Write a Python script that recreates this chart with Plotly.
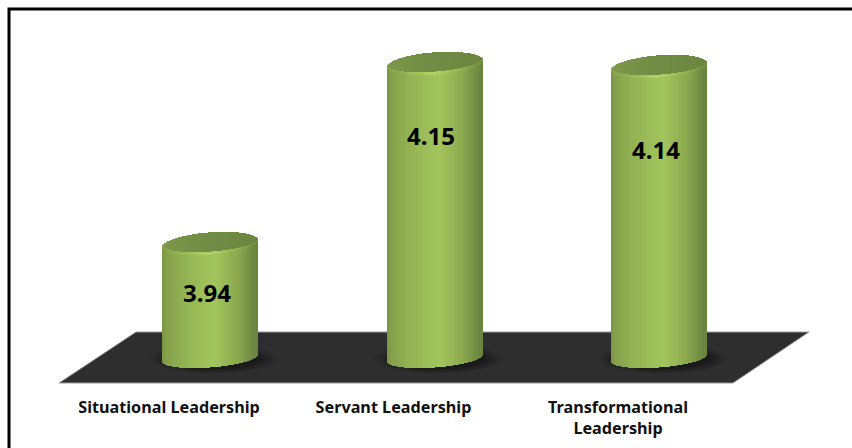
import numpy as np
import plotly.graph_objects as go

# --- data ---
categories = ["Situational Leadership", "Servant Leadership", "Transformational<br>Leadership"]
scores = [3.94, 4.146, 4.1426]   # shown rounded to two decimals

# --- layout constants (pixels of the 852x448 picture) ---
W, H = 852, 448
PLOT_H = 392
CX0, CX_STEP = 210.5, 224.5
HALF_W = 47.5
PX_PER_SCORE = 180 / 0.206
BASE_SCORE = 3.809
TOP_REF_PX = 243.5
TILT = 7 / 95
B_TOP, B_BOTTOM = 11, 9.5
LABEL_DY = [292.5, 135, 149]
LABEL_DX = -4
TICK_DX = -41.5


def val(py):
    return scores[0] + (TOP_REF_PX - py) / PX_PER_SCORE


def xu(px):
    return (px - CX0) / CX_STEP


def paper_y(py):
    return (PLOT_H - py) / PLOT_H


def lerp(stops, t):
    ts = [s[0] for s in stops]
    rgb = [np.interp(t, ts, [int(s[1][i:i + 2], 16) for s in stops]) for i in (1, 3, 5)]
    return "rgb(%d,%d,%d)" % tuple(int(round(c)) for c in rgb)


BODY = [(0, "#789446"), (.04, "#84a04b"), (.25, "#94b454"), (.55, "#a3c55d"),
        (.8, "#8ca84e"), (.95, "#708a43"), (1, "#6a843f")]
RIM = [(0, "#86a24c"), (.3, "#a0c05a"), (.5, "#b2d466"), (.75, "#98b656"), (1, "#728c44")]
FACE = [(0, "#7c984a"), (.4, "#728d45"), (1, "#6c863f")]

fig = go.Figure()


def strips(cx_idx, half_w, lo, hi, stops):
    """One-pixel bars between two value curves; lo and hi map u (-1..1) to scores."""
    n = int(round(half_w * 2))
    u = (np.arange(n) + .5) / n * 2 - 1
    px = u * half_w
    base, top = lo(u, px), hi(u, px)
    fig.add_trace(go.Bar(
        x=cx_idx + px / CX_STEP, y=top - base, base=base,
        width=1.15 / CX_STEP,
        marker=dict(color=[lerp(stops, (a + 1) / 2) for a in u], line=dict(width=0)),
        hoverinfo="skip", showlegend=False))


for i, s in enumerate(scores):
    b_b = B_BOTTOM / PX_PER_SCORE
    b_t = B_TOP / PX_PER_SCORE
    tilt = TILT / PX_PER_SCORE

    def arc(u):
        return np.sqrt(np.clip(1 - u ** 2, 0, 1))

    # body: from the lower arc of the base up to the centre line of the top
    strips(i, HALF_W,
           lambda u, p: BASE_SCORE + tilt * p - b_b * arc(u),
           lambda u, p: s + tilt * p, BODY)
    # lit rim of the top
    strips(i, HALF_W,
           lambda u, p: s + tilt * p - b_t * arc(u),
           lambda u, p: s + tilt * p + b_t * arc(u), RIM)
    # top face, slightly inset and raised
    inset = HALF_W - 1.5
    strips(i, inset,
           lambda u, p: s + 1.3 / PX_PER_SCORE + tilt * p - (b_t - 1.6 / PX_PER_SCORE) * arc(u),
           lambda u, p: s + 0.5 / PX_PER_SCORE + tilt * p + (b_t - 0.3 / PX_PER_SCORE) * arc(u), FACE)

# floor, shadows, frame
floor = [(59, 383), (136, 332), (809, 332), (733, 383)]
path = "M " + " L ".join(f"{xu(a):.5f},{val(b):.5f}" for a, b in floor) + " Z"
shapes = [dict(type="path", path=path, xref="x", yref="y", layer="below",
               fillcolor="#2e2e2e", line=dict(color="#9a9a9a", width=1))]
for i in range(len(scores)):
    cx = CX0 + CX_STEP * i + 3
    for grow, op in [(16, .05), (12, .07), (8, .09), (4, .11), (1, .13)]:
        shapes.append(dict(type="circle", xref="x", yref="y", layer="below",
                           x0=xu(cx - HALF_W - grow), x1=xu(cx + HALF_W + grow),
                           y0=val(359 + 10 + grow * .3), y1=val(359 - 10 - grow * .3),
                           fillcolor="black", opacity=op, line=dict(width=0)))
shapes.append(dict(type="path", xref="paper", yref="paper",
                   path=f"M {9/W},{paper_y(H+5)} L {9/W},{paper_y(9)} L {(W+5)/W},{paper_y(9)}",
                   line=dict(color="black", width=3)))

annotations = [dict(x=i + LABEL_DX / CX_STEP, y=val(LABEL_DY[i]), xref="x", yref="y",
                    text=f"{s:.2f}", showarrow=False,
                    font=dict(family="Noto Sans", size=24, color="black", weight="bold"))
               for i, s in enumerate(scores)]

fig.update_layout(
    width=W, height=H, margin=dict(l=0, r=0, t=0, b=H - PLOT_H, pad=0),
    paper_bgcolor="white", plot_bgcolor="white", barmode="overlay", bargap=0,
    showlegend=False, hovermode=False, shapes=shapes, annotations=annotations,
    xaxis=dict(range=[xu(0), xu(W)], showgrid=False, zeroline=False, showline=False,
               tickmode="array", tickvals=[i + TICK_DX / CX_STEP for i in range(3)],
               ticktext=categories, ticks="", ticklabelstandoff=4, automargin=False,
               tickfont=dict(family="Noto Sans", size=16.2, color="#111111", weight="bold")),
    yaxis=dict(range=[val(PLOT_H), val(0)], visible=False, fixedrange=True),
)
fig.write_html("out.html", config=dict(displayModeBar=False, responsive=False),
               post_script="document.body.style.margin='0';document.documentElement.style.overflow='hidden';")
